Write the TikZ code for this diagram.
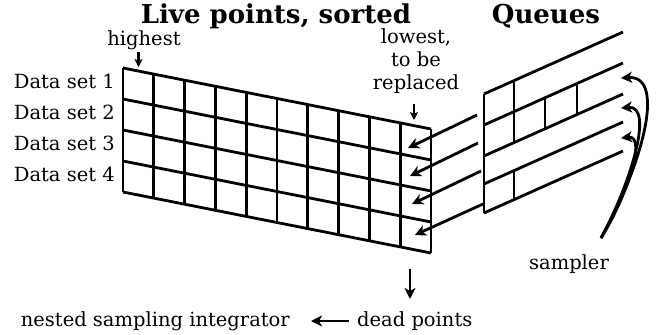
\documentclass[tikz,border=0pt]{standalone}
\usepackage{fontspec}
\setmainfont{DejaVu Serif}
\usetikzlibrary{arrows.meta,calc}
\begin{document}
\begin{tikzpicture}[x=1pt,y=-1pt,
  gridline/.style={line width=2.8pt, line join=miter},
  bigarrow/.style={line width=2.8pt, -{Stealth[length=11pt,width=11pt,inset=3pt]}},
  smallarrow/.style={line width=2.2pt, -{Stealth[length=8pt,width=8pt,inset=2pt]}},
  txt/.style={font=\fontsize{19.5}{22.7}\selectfont, inner sep=0pt, anchor=base},
  ttl/.style={font=\fontsize{26}{30}\selectfont\bfseries, inner sep=0pt, anchor=base}]
\useasboundingbox (0,0) rectangle (665,335);

% ---------- grid (live points) ----------
\coordinate (TL) at (123,68);
\coordinate (TR) at (431,129);
\coordinate (BL) at (123,192);
\coordinate (BR) at (431,253);
\foreach \i in {0,...,4}{
  \draw[gridline] ($(TL)!\i/4!(BL)$) -- ($(TR)!\i/4!(BR)$);
}
\foreach \j in {0,...,10}{
  \draw[gridline] ($(TL)!\j/10!(TR)$) -- ($(BL)!\j/10!(BR)$);
}

% ---------- queues ----------
\foreach \k/\yl/\yr in {1/94/32, 2/125/63, 3/156/94, 4/184/122, 5/213/151}{
  \coordinate (q\k l) at (484,\yl);
  \coordinate (q\k r) at (623,\yr);
  \draw[gridline] (q\k l) -- (q\k r);
}
\draw[gridline] (q1l) -- (q5l);
\draw[gridline] ($(q1l)!30/139!(q1r)$) -- ($(q3l)!30/139!(q3r)$);
\draw[gridline] ($(q2l)!61/139!(q2r)$) -- ($(q3l)!61/139!(q3r)$);
\draw[gridline] ($(q2l)!93/139!(q2r)$) -- ($(q3l)!93/139!(q3r)$);
\draw[gridline] ($(q4l)!30/139!(q4r)$) -- ($(q5l)!30/139!(q5r)$);

% ---------- arrows from queues to lowest column ----------
\foreach \n/\sx/\sy/\tx/\ty in {1/477/115/408/148, 2/478/143/410/176, 3/481/171/412/204, 4/483/204/415/235}{
  \coordinate (as\n) at (\sx,\sy);
  \coordinate (at\n) at (\tx,\ty);
  \draw[bigarrow] (as\n) -- (at\n);
}

% ---------- titles and labels ----------
\node[ttl] (title1) at (276,23) {Live points, sorted};
\node[ttl] (title2) at (546,23) {Queues};

\node[txt] (highest) at (144,45) {highest};
\coordinate (hs) at (138.5,52);
\coordinate (he) at (138.5,67);
\draw[smallarrow] (hs) -- (he);

\node[txt, align=center, anchor=base] (lowest) at (416,89) {lowest,\\to be\\replaced};
\coordinate (ls) at (414,104);
\coordinate (le) at (414,120);
\draw[smallarrow] (ls) -- (le);

\foreach \n/\y in {1/88, 2/119, 3/150, 4/181}{
  \node[txt, anchor=base east] (ds\n) at (115,\y) {Data set \n};
}

\node[txt] (sampler) at (569,269) {sampler};

\node[txt, anchor=base west] (dead) at (357,326) {dead points};
\node[txt, anchor=base east] (nsi) at (290,326) {nested sampling integrator};
\coordinate (ds) at (410,269);
\coordinate (de) at (410,299);
\draw[bigarrow] (ds) -- (de);
\coordinate (ls2) at (349,321);
\coordinate (le2) at (311,321);
\draw[bigarrow] (ls2) -- (le2);

% ---------- sampler curves ----------
\coordinate (sp) at (601,238);
\coordinate (st1) at (621,78);
\coordinate (st2) at (621,108);
\coordinate (st3) at (621,138);
\draw[bigarrow] (sp) .. controls (640,170) and (668,75) .. (st1);
\draw[bigarrow] (sp) .. controls (630,185) and (655,105) .. (st2);
\draw[bigarrow] (sp) .. controls (625,200) and (648,135) .. (st3);
\end{tikzpicture}
\end{document}
